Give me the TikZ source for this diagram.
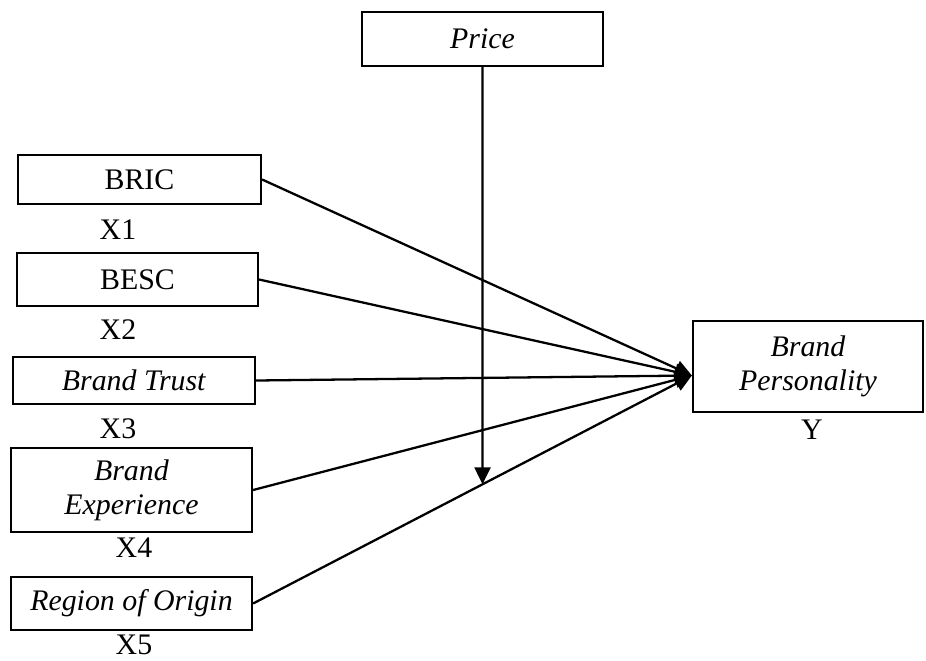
\documentclass[tikz,border=0pt]{standalone}
\usepackage{fontspec}
\setmainfont{Liberation Serif}
\usetikzlibrary{arrows.meta,positioning}

\tikzset{
	box/.style={draw, line width=1.3pt, inner sep=0pt, align=center, font=\fontsize{17}{19.5}\selectfont},
	lbl/.style={inner sep=0pt, font=\fontsize{17}{19.5}\selectfont},
	link/.style={line width=1.3pt, -{Triangle[length=0.34cm,width=0.32cm]}},
}

\begin{document}
\begin{tikzpicture}[x=0.02cm, y=-0.02cm]
		\useasboundingbox (0,0) rectangle (926,660);
		\node (price) [box, minimum width=4.82cm, minimum height=1.08cm] at (482.5,39) {\textit{Price}};
		\node (bric) [box, minimum width=4.86cm, minimum height=0.98cm] at (139.5,179.5) {BRIC};
		\node (besc) [box, minimum width=4.82cm, minimum height=1.06cm] at (137.5,279.5) {BESC};
		\node (trust) [box, minimum width=4.84cm, minimum height=0.94cm] at (134,380.5) {\textit{Brand Trust}};
		\node (exper) [box, minimum width=4.82cm, minimum height=1.68cm] at (131.5,490) {\textit{Brand}\\\textit{Experience}};
		\node (origin) [box, minimum width=4.82cm, minimum height=1.06cm] at (131.5,603.5) {\textit{Region of Origin}};
		\node (pers) [box, minimum width=4.6cm, minimum height=1.82cm] at (808,366.5) {\textit{Brand}\\\textit{Personality}};
		\node (x1) [lbl] at (118,230) {X1};
		\node (x2) [lbl] at (118,330) {X2};
		\node (x3) [lbl] at (118,429) {X3};
		\node (x4) [lbl] at (134,548) {X4};
		\node (x5) [lbl] at (134,645) {X5};
		\node (y) [lbl] at (812,430) {Y};
		\coordinate (hit) at ([yshift=-0.18cm]pers.west);
		\coordinate (pbot) at (price.south |- origin.south);
		\coordinate (mod) at (intersection of price.south--pbot and origin.east--hit);
		\foreach \n in {bric,besc,trust,exper,origin}
			\draw[link] (\n.east) -- (hit);
		\draw[link] (price.south) -- (mod);
\end{tikzpicture}
\end{document}
